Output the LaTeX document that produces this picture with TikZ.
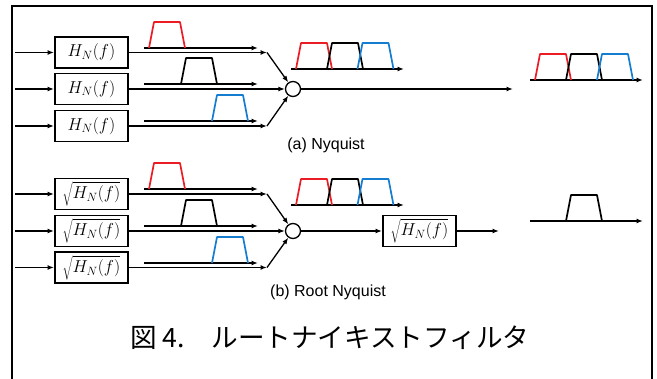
\documentclass[tikz,border=0pt]{standalone}
\usepackage{fontspec}
\setsansfont{Liberation Sans}
\newfontfamily\jpfont{Noto Sans CJK JP}
\usetikzlibrary{arrows.meta}
\definecolor{specred}{RGB}{236,28,36}
\definecolor{specblue}{RGB}{20,125,210}
\tikzset{
  sig/.style={line width=1.3pt,-{Latex[length=6.5pt,width=5pt]}},
  filt/.style={draw,line width=1.9pt,minimum width=73pt,minimum height=31pt,inner sep=0pt,
    font=\fontsize{17.5}{20}\selectfont},
  adder/.style={draw,circle,line width=1.3pt,minimum size=15pt,inner sep=0pt},
  axis/.style={line width=1.3pt,-{Latex[length=6.5pt,width=5pt]}},
  band/.style={line width=1.7pt,line join=round},
  lbl/.style={font=\sffamily\fontsize{16}{18}\selectfont,inner sep=0pt}
}
% trapezoidal spectrum: #1 colour, #2 left foot x, #3 axis y
\newcommand\spectrum[3]{\draw[band,#1] (#2,#3) -- ++(5,-26) -- ++(26,0) -- ++(5,26);}
\begin{document}
\begin{tikzpicture}[x=1pt,y=-1pt]
\useasboundingbox (0,0) rectangle (657,379);
% frame
\draw[line width=2.2pt] (12,380) -- (12,6) -- (652,6) -- (652,380);

% ---------- (a) Nyquist ----------
\node[filt] (a1) at (91.5,52.5) {$H_N(f)$};
\node[filt] (a2) at (91.5,89) {$H_N(f)$};
\node[filt] (a3) at (91.5,126) {$H_N(f)$};
\coordinate (ai1) at (15,52.5);
\coordinate (ai2) at (15,89);
\coordinate (ai3) at (15,126);
\node[adder] (asum) at (293,89) {};
\coordinate (aj1) at (267,52.5);
\coordinate (aj3) at (267,126);
\coordinate (aout) at (513,89);
\draw[sig] (ai1) -- (a1.west);
\draw[sig] (ai2) -- (a2.west);
\draw[sig] (ai3) -- (a3.west);
\draw[sig] (a1.east) -- (aj1);
\draw[sig] (aj1) -- (asum);
\draw[sig] (a2.east) -- (asum.west);
\draw[sig] (a3.east) -- (aj3);
\draw[sig] (aj3) -- (asum);
\draw[sig] (asum.east) -- (aout);
% branch spectra
\draw[axis] (144,48) -- (258,48);
\spectrum{specred}{149}{48}
\draw[axis] (144,84) -- (258,84);
\spectrum{black}{181}{84}
\draw[axis] (144,121) -- (258,121);
\spectrum{specblue}{212}{121}
% summed spectrum
\draw[axis] (291,69) -- (404,69);
\spectrum{specred}{296}{69}
\spectrum{black}{327}{69}
\spectrum{specblue}{357.5}{69}
% output spectrum
\draw[axis] (530,80) -- (643,80);
\spectrum{specred}{535}{80}
\spectrum{black}{566}{80}
\spectrum{specblue}{597}{80}
\node[lbl] (alabel) at (326,145) {(a) Nyquist};

% ---------- (b) Root Nyquist ----------
\node[filt] (b1) at (91.5,194) {$\sqrt{H_N(f)}$};
\node[filt] (b2) at (91.5,231) {$\sqrt{H_N(f)}$};
\node[filt] (b3) at (91.5,267.5) {$\sqrt{H_N(f)}$};
\coordinate (bi1) at (15,194);
\coordinate (bi2) at (15,231);
\coordinate (bi3) at (15,267.5);
\node[adder] (bsum) at (293,231) {};
\coordinate (bj1) at (267,194);
\coordinate (bj3) at (267,267.5);
\node[filt] (rx) at (419.5,231) {$\sqrt{H_N(f)}$};
\coordinate (bout) at (499,231);
\draw[sig] (bi1) -- (b1.west);
\draw[sig] (bi2) -- (b2.west);
\draw[sig] (bi3) -- (b3.west);
\draw[sig] (b1.east) -- (bj1);
\draw[sig] (bj1) -- (bsum);
\draw[sig] (b2.east) -- (bsum.west);
\draw[sig] (b3.east) -- (bj3);
\draw[sig] (bj3) -- (bsum);
\draw[sig] (bsum.east) -- (rx.west);
\draw[sig] (rx.east) -- (bout);
% branch spectra
\draw[axis] (144,189) -- (258,189);
\spectrum{specred}{149}{189}
\draw[axis] (144,226) -- (258,226);
\spectrum{black}{181}{226}
\draw[axis] (144,263) -- (258,263);
\spectrum{specblue}{212}{263}
% summed spectrum
\draw[axis] (291,205) -- (404,205);
\spectrum{specred}{296}{205}
\spectrum{black}{327}{205}
\spectrum{specblue}{357.5}{205}
% recovered channel
\draw[axis] (530,221) -- (643,221);
\spectrum{black}{566}{221}
\node[lbl] (blabel) at (328,292) {(b) Root Nyquist};

% caption
\node[anchor=west,inner sep=0pt,font=\jpfont\fontsize{26.6}{30}\selectfont] (cap) at (130,338)
  {図 4.　ルートナイキストフィルタ};
\end{tikzpicture}
\end{document}
